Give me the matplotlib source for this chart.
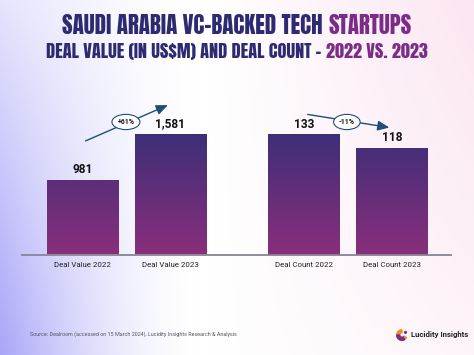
import numpy as np
import matplotlib.pyplot as plt
from matplotlib.colors import LinearSegmentedColormap, to_rgb
from matplotlib.patches import Wedge, Circle

value_labels = ['Deal Value 2022', 'Deal Value 2023']
value_data = [981, 1581]
count_labels = ['Deal Count 2022', 'Deal Count 2023']
count_data = [133, 118]
value_change = '+61%'
count_change = '-11%'

navy = '#2e2a72'
purple = '#7a2c87'
arrow_col = '#1f4e79'
bar_cmap = LinearSegmentedColormap.from_list('bar', ['#8a2f7b', '#3d2e78'])
sans = ['Roboto', 'DejaVu Sans']

fig = plt.figure(figsize=(4.74, 3.55), dpi=100)

# background wash: lavender bottom-left, pink top-right
bg = fig.add_axes([0, 0, 1, 1], zorder=-5)
bg.axis('off')
gx, gy = np.meshgrid(np.linspace(0, 1, 200), np.linspace(0, 1, 150))  # gy 0 = top
lav = np.clip(1 - gx / 0.42, 0, 1) ** 1.6 * (0.3 + 0.7 * gy)
pink = np.clip((gx - 0.45) / 0.55, 0, 1) * (1 - 0.6 * gy)
img = np.ones((150, 200, 3))
for c, w in ((to_rgb('#a9a6f8'), lav), (to_rgb('#fbe3f1'), pink * 0.9)):
    img = img * (1 - w[..., None]) + np.array(c) * w[..., None]
bg.imshow(img, aspect='auto', extent=(0, 1, 0, 1))
bg.set_xlim(0, 1)
bg.set_ylim(0, 1)

ax = fig.add_axes([22 / 474, 1 - 255 / 355, 429 / 474, 195 / 355])
ax.patch.set_alpha(0)
ax2 = ax.twinx()

xv = np.array([0, 1])
xc = np.array([2.52, 3.52])
w = 0.81

for a, xs, vals in ((ax, xv, value_data), (ax2, xc, count_data)):
    top = max(vals)
    a.set_ylim(0, top * 195 / 121)
    bars = a.bar(xs, vals, width=w, color='none', edgecolor='none')
    for b in bars:
        im = a.imshow(np.linspace(0, 1, 256)[:, None], cmap=bar_cmap, aspect='auto',
                      origin='lower', extent=(-1, 5, 0, top), zorder=2)
        im.set_clip_path(b)
    for x, v in zip(xs, vals):
        a.annotate(f'{v:,}', (x, v), xytext=(0, 2.5), textcoords='offset points',
                   ha='center', va='bottom', fontsize=8.6, fontweight='bold',
                   family=sans, color='#111111')

ax.set_xlim(-0.6875, 4.19)
for a in (ax, ax2):
    a.set_yticks([])
    for s in ('top', 'right', 'left'):
        a.spines[s].set_visible(False)
    a.spines['bottom'].set_color('#8c8c9c')
    a.spines['bottom'].set_linewidth(1.2)
ax.set_xticks(list(xv) + list(xc))
ax.set_xticklabels(value_labels + count_labels, fontsize=5.7, family=sans, color='#222222')
ax.tick_params(axis='x', length=0, pad=5)

# change arrows
ax.annotate('', xy=(1.0, 1973), xytext=(0.006, 1476),
            arrowprops=dict(arrowstyle='-|>,head_length=0.7,head_width=0.3', color=arrow_col, lw=1), zorder=4)
ax.text(0.494, 1738, value_change, ha='center', va='center', fontsize=5, fontweight='bold',
        family=sans, color='#111111', zorder=5,
        bbox=dict(boxstyle='ellipse,pad=0.2', fc='white', ec=arrow_col, lw=0.8))
ax2.annotate('', xy=(3.52, 139.6), xytext=(2.53, 155),
             arrowprops=dict(arrowstyle='-|>,head_length=0.7,head_width=0.3', color=arrow_col, lw=1), zorder=4)
ax2.text(3.006, 146.2, count_change, ha='center', va='center', fontsize=5, fontweight='bold',
         family=sans, color='#111111', zorder=5,
         bbox=dict(boxstyle='ellipse,pad=0.2', fc='white', ec=arrow_col, lw=0.8))

# two-colour title lines, centred
title_font = dict(family=['Anton', 'Liberation Sans Narrow', 'DejaVu Sans'], fontsize=16)
renderer = fig.canvas.get_renderer()
for y, parts, target in ((1 - 26 / 355, [('SAUDI ARABIA VC-BACKED TECH ', navy), ('STARTUPS', purple)], 351),
                         (1 - 52 / 355, [('DEAL VALUE (IN US$M) AND DEAL COUNT - ', navy), ('2022 VS. 2023', purple)], 382)):
    texts = [fig.text(0, y, s, color=c, va='center', ha='left', **title_font) for s, c in parts]
    widths = [t.get_window_extent(renderer).width for t in texts]
    scale = target / sum(widths)
    for t in texts:
        t.set_fontsize(title_font['fontsize'] * scale)
    widths = [t.get_window_extent(renderer).width for t in texts]
    x0 = (474 - sum(widths)) / 2
    for t, wd in zip(texts, widths):
        t.set_x(x0 / 474)
        x0 += wd

fig.text(30 / 474, 1 - 334 / 355, 'Source: Dealroom (accessed on 15 March 2024), Lucidity Insights Research & Analysis',
         fontsize=3.9, family=sans, color='#555566', va='center')
fig.text(411 / 474, 1 - 335 / 355, 'Lucidity Insights', fontsize=5.6, fontweight='bold',
         family=sans, color='#222222', va='center')
logo = fig.add_axes([396 / 474, 1 - 342 / 355, 12 / 474, 14 / 355])
logo.axis('off')
logo.set_xlim(-1, 1)
logo.set_ylim(-1.2, 1.2)
logo.set_aspect('equal')
logo.add_patch(Wedge((0, 0), 0.9, 90, 330, width=0.5, color='#f28c28'))
logo.add_patch(Wedge((0, 0), 0.9, 180, 300, width=0.5, color='#7a2c87'))
logo.add_patch(Circle((0.6, 0.45), 0.15, color='#7a2c87'))

fig.savefig('out.png', dpi=100)
